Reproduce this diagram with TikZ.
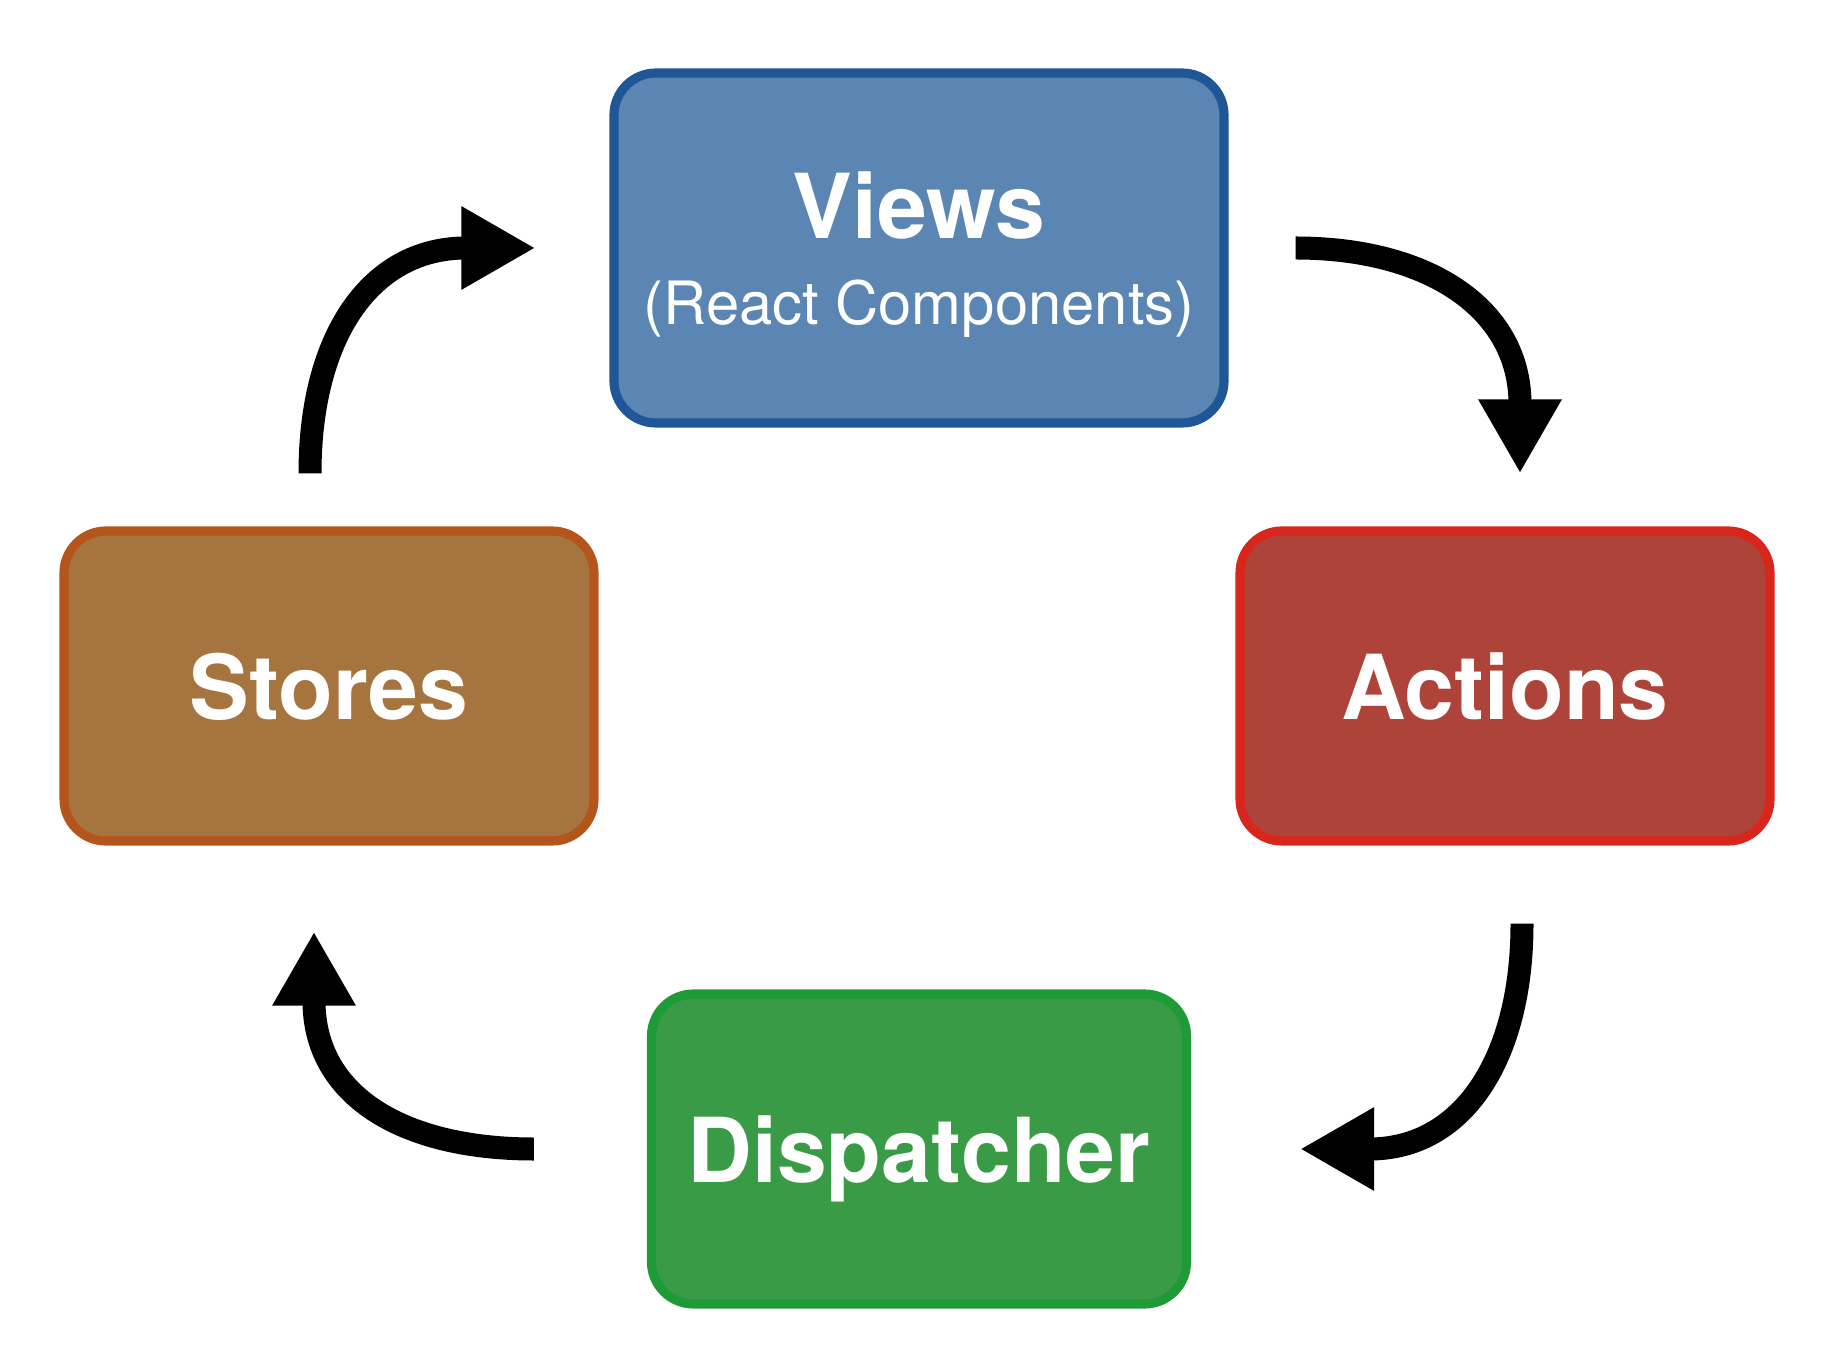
\documentclass[tikz,border=0pt]{standalone}
\usepackage{fontspec}
\setmainfont{TeX Gyre Heros}
\usetikzlibrary{arrows.meta}

\definecolor{viewsfill}{HTML}{5B86B4}
\definecolor{viewsline}{HTML}{1E5696}
\definecolor{actionsfill}{HTML}{AE4439}
\definecolor{actionsline}{HTML}{D9261C}
\definecolor{storesfill}{HTML}{A6753F}
\definecolor{storesline}{HTML}{B4561C}
\definecolor{dispfill}{HTML}{3A9B47}
\definecolor{displine}{HTML}{1E9A37}

\begin{document}
\begin{tikzpicture}[
    box/.style={rounded corners=4.2mm, line width=2.6pt, minimum width=5.3cm,
      minimum height=3.1cm, text=white, text depth=0pt,
      font=\bfseries\fontsize{25.5}{30}\selectfont},
    flow/.style={line width=2.3mm, -{Triangle[length=7.4mm,width=7.8mm]}}
  ]
      \useasboundingbox (0,0) rectangle (18.36,-13.66);

      % Boxes
      \node[box, fill=viewsfill, draw=viewsline, minimum width=6.1cm,
        minimum height=3.5cm, align=center, text depth=-0.28cm] (views) at (9.19,-2.48)
        {Views\\[-5.7pt]{\mdseries\fontsize{17}{20}\selectfont (React Components)}};
      \node[box, fill=actionsfill, draw=actionsline] (actions) at (15.05,-6.86) {Actions};
      \node[box, fill=dispfill, draw=displine, minimum width=5.35cm] (dispatcher) at (9.19,-11.49) {Dispatcher};
      \node[box, fill=storesfill, draw=storesline] (stores) at (3.29,-6.86) {Stores};

      % Flow arrows
      \draw[flow] ([xshift=0.67cm]views.east) .. controls +(1.34,0) and +(0,1.64) ..
        ([xshift=0.15cm,yshift=0.53cm]actions.north);
      \draw[flow] ([xshift=0.17cm,yshift=-0.78cm]actions.south) .. controls +(0,-1.35) and +(1.63,0) ..
        ([xshift=1.09cm]dispatcher.east);
      \draw[flow] ([xshift=-1.13cm]dispatcher.west) .. controls +(-1.33,0) and +(0,-1.63) ..
        ([xshift=-0.15cm,yshift=-0.86cm]stores.south);
      \draw[flow] ([xshift=-0.19cm,yshift=0.53cm]stores.north) .. controls +(0,1.37) and +(-1.65,0) ..
        ([xshift=-0.74cm]views.west);
\end{tikzpicture}
\end{document}
